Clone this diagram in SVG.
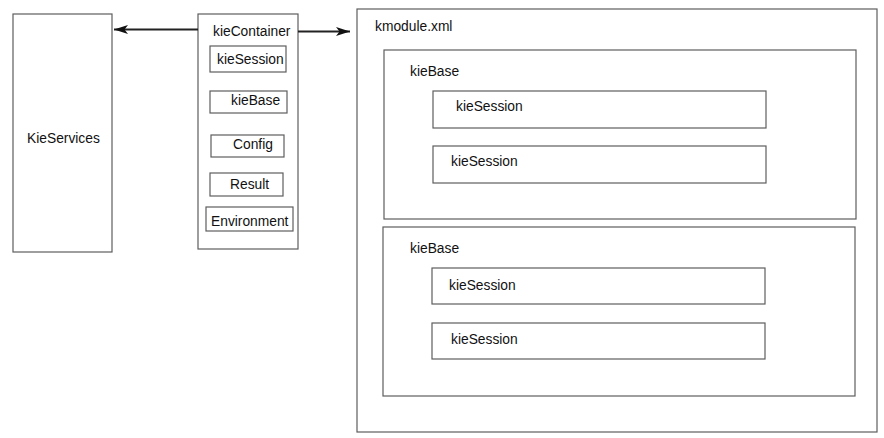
<svg xmlns="http://www.w3.org/2000/svg" width="884" height="438" viewBox="0 0 884 438">
<style>
.box{fill:#fff;stroke:#5e5e5e;stroke-width:1.2}
.t{font-family:"Liberation Sans",Arial,sans-serif;font-size:13.8px;fill:#111}
.c{stroke:#222;stroke-width:1.8;fill:none}
</style>
<defs>
<marker id="ah" viewBox="0 0 14 9" refX="14" refY="4.5" markerWidth="14" markerHeight="9" markerUnits="userSpaceOnUse" orient="auto">
<path d="M0,0 L14,4.5 L0,9 L3.5,4.5 Z" fill="#111"/>
</marker>
</defs>
<rect width="884" height="438" fill="#fff"/>
<g id="kieServices">
<rect class="box" x="13" y="14" width="99" height="238"/>
<text class="t" x="27" y="143">KieServices</text>
</g>
<g id="kieContainer">
<rect class="box" x="198" y="14" width="100" height="235"/>
<text class="t" x="213" y="36">kieContainer</text>
</g>
<g id="kc-kieSession">
<rect class="box" x="210" y="46" width="76" height="26"/>
<text class="t" x="217" y="64">kieSession</text>
</g>
<g id="kc-kieBase">
<rect class="box" x="210" y="91" width="77" height="22"/>
<text class="t" x="231" y="105">kieBase</text>
</g>
<g id="kc-config">
<rect class="box" x="211" y="135" width="73" height="22"/>
<text class="t" x="233" y="149">Config</text>
</g>
<g id="kc-result">
<rect class="box" x="210" y="173" width="73" height="23"/>
<text class="t" x="230" y="189">Result</text>
</g>
<g id="kc-environment">
<rect class="box" x="206" y="207" width="87" height="24"/>
<text class="t" x="211" y="226">Environment</text>
</g>
<g id="kmodule">
<rect class="box" x="357" y="9" width="520" height="423"/>
<text class="t" x="375" y="31">kmodule.xml</text>
</g>
<g id="kieBase1">
<rect class="box" x="384" y="50" width="472" height="169"/>
<text class="t" x="410" y="76">kieBase</text>
</g>
<g id="kieSession1">
<rect class="box" x="433" y="91" width="333" height="37"/>
<text class="t" x="456" y="111">kieSession</text>
</g>
<g id="kieSession2">
<rect class="box" x="433" y="146" width="333" height="37"/>
<text class="t" x="451" y="166">kieSession</text>
</g>
<g id="kieBase2">
<rect class="box" x="383" y="227" width="472" height="169"/>
<text class="t" x="410" y="253">kieBase</text>
</g>
<g id="kieSession3">
<rect class="box" x="432" y="268" width="333" height="36"/>
<text class="t" x="449" y="290">kieSession</text>
</g>
<g id="kieSession4">
<rect class="box" x="432" y="323" width="333" height="36"/>
<text class="t" x="451" y="344">kieSession</text>
</g>
<g id="connectors">
<line class="c" x1="198" y1="29.5" x2="114" y2="29.5" marker-end="url(#ah)"/>
<line class="c" x1="298" y1="31.5" x2="350" y2="31.5" marker-end="url(#ah)"/>
</g>
</svg>
